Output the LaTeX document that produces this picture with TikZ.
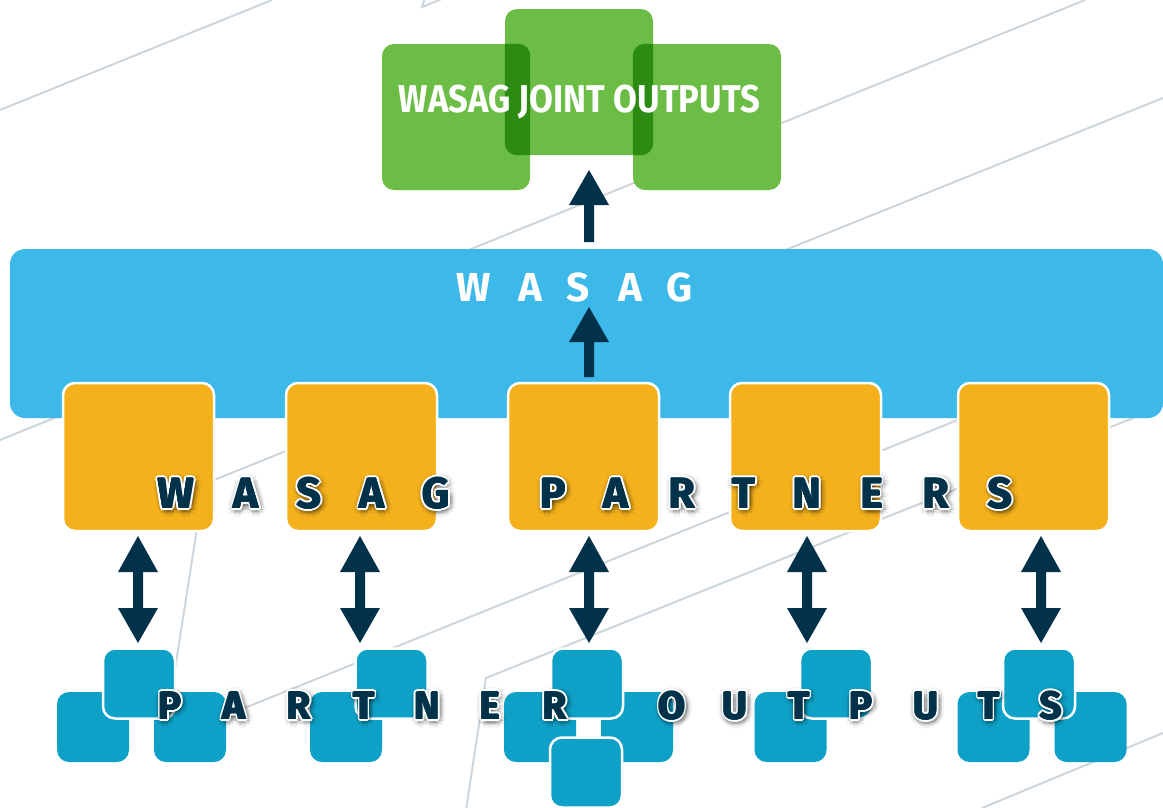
\documentclass[tikz,border=0pt]{standalone}
\usepackage{fontspec}
\setmainfont{Fira Sans}
\usetikzlibrary{calc}
\definecolor{navy}{HTML}{01324A}
\definecolor{bgl}{HTML}{CDD6DC}
\definecolor{grn}{HTML}{6BBD45}
\definecolor{dgrn}{HTML}{2B8B12}
\definecolor{barb}{HTML}{3CB8E9}
\definecolor{org}{HTML}{F4B11C}
\definecolor{sqb}{HTML}{0EA1C8}
\newcommand\glowltr[4]{%
  \foreach \myr/\myop in {7/0.035, 5/0.05, 3/0.07}{%
    \foreach \mya in {0,45,...,315}{%
      \node[#1, text=black, opacity=\myop] at ($#3+(\mya:\myr)+(1.5,2)$) {#4};
    }%
  }%
  \foreach \mya in {0,30,...,330}{%
    \node[#1, text=white] at ($#3+(\mya:2.3)$) {#4};
  }%
  \foreach \mya in {0,90,180,270}{%
    \node[#1, text=navy] at ($#3+(\mya:0.6)$) {#4};
  }%
  \node[#1, text=navy] (#2) at #3 {#4};%
}
\newcommand\uparr[2]{%
  \fill[navy] ($(#1)+(-5,0)$) -- ($(#2)+(-5,35)$) -- ($(#2)+(-20,35)$) -- (#2)
    -- ($(#2)+(20,35)$) -- ($(#2)+(5,35)$) -- ($(#1)+(5,0)$) -- cycle;}
\newcommand\dblarr[2]{%
  \fill[navy] (#1) -- ($(#1)+(20,36)$) -- ($(#1)+(5,36)$) -- ($(#2)+(5,-35)$)
    -- ($(#2)+(20,-35)$) -- (#2) -- ($(#2)+(-20,-35)$) -- ($(#2)+(-5,-35)$)
    -- ($(#1)+(-5,36)$) -- ($(#1)+(-20,36)$) -- cycle;}
\begin{document}
\begin{tikzpicture}[x=1pt,y=-1pt,
  bgline/.style={draw=bgl, line width=2pt},
  gbox/.style={fill=grn, rounded corners=12pt, minimum width=148pt, minimum height=146pt, inner sep=0pt},
  barbox/.style={fill=barb, rounded corners=15pt, minimum width=1153pt, minimum height=169pt, inner sep=0pt},
  obox/.style={fill=org, draw=white, line width=2.5pt, rounded corners=12pt, minimum width=151pt, minimum height=148pt, inner sep=0pt},
  sq/.style={fill=sqb, rounded corners=12pt, minimum width=72pt, minimum height=70pt, inner sep=0pt},
  sqt/.style={sq, draw=white, line width=2.5pt},
  ltrW/.style={font=\fontsize{40.5}{42}\selectfont\bfseries, text=white, inner sep=0pt, anchor=base},
  ltrP/.style={font=\fontsize{43}{45}\selectfont\bfseries, inner sep=0pt, anchor=base},
  ltrO/.style={font=\fontsize{39}{41}\selectfont\bfseries, inner sep=0pt, anchor=base}]
\useasboundingbox (0,0) rectangle (1163,807);
\fill[white] (0,0) rectangle (1163,807);
% background lines
\begin{scope}
\clip (0,0) rectangle (1163,807);
\draw[bgline] (0,110) -- (272,0);
\draw[bgline] (425,-2) -- (422,7) -- (444,-2);
\draw[bgline] (0,440) -- (1085,0);
\draw[bgline] (1163,98) -- (204,484) -- (167,720);
\draw[bgline] (200,726) -- (1163,337);
\draw[bgline] (466,810) -- (486,678) -- (1163,406);
\draw[bgline] (982,808) -- (1163,733);
\end{scope}
% green joint outputs
\node[gbox] (g1) at (456,117) {};
\node[gbox] (g3) at (707,117) {};
\node[gbox] (g2) at (579,82) {};
\begin{scope}
\clip[rounded corners=12pt] (g1.south west) rectangle (g1.north east);
\fill[dgrn, rounded corners=12pt] (g2.south west) rectangle (g2.north east);
\end{scope}
\begin{scope}
\clip[rounded corners=12pt] (g3.south west) rectangle (g3.north east);
\fill[dgrn, rounded corners=12pt] (g2.south west) rectangle (g2.north east);
\end{scope}
\node[anchor=base, text=white, inner sep=0pt] (title) at (579.5,112)
  {\resizebox{361pt}{27.5pt}{\bfseries WASAG JOINT OUTPUTS}};
% blue bar
\node[barbox] (bar) at (586.5,333.5) {};
\foreach \x/\l [count=\i] in {474/W,530/A,578.5/S,630/A,679.5/G}
  \node[ltrW] (bw\i) at (\x,301) {\l};
% arrows to green and within bar
\coordinate (ua1) at (589,242);
\coordinate (ut1) at (589,170);
\uparr{ua1}{ut1}
\coordinate (ua2) at (589,377);
\coordinate (ut2) at (589,307);
\uparr{ua2}{ut2}
% orange partner boxes
\foreach \x [count=\i] in {138.5,361.5,583.5,805.5,1033.5}
  \node[obox] (o\i) at (\x,457) {};
% double arrows
\foreach \x [count=\i] in {138,360,589,807,1041}{
  \coordinate (dt\i) at (\x,536);
  \coordinate (db\i) at (\x,643);
  \dblarr{dt\i}{db\i}
}
% partner output squares
\node[sq] (s1a) at (93,727) {};
\node[sq] (s1b) at (190,727) {};
\node[sqt] (s1c) at (139,683.5) {};
\node[sq] (s2a) at (346,727) {};
\node[sqt] (s2b) at (391.5,683.5) {};
\node[sq] (s3a) at (540,727) {};
\node[sq] (s3b) at (637,727) {};
\node[sqt] (s3c) at (587,683.5) {};
\node[sqt] (s3d) at (586,772.5) {};
\node[sq] (s4a) at (790.5,727) {};
\node[sqt] (s4b) at (836,683.5) {};
\node[sq] (s5a) at (993.5,727) {};
\node[sq] (s5b) at (1090.5,727) {};
\node[sqt] (s5c) at (1039,683.5) {};
% outlined letters
\foreach \x/\l [count=\i] in {176/W,246/A,309/S,372/A,436/G,553/P,616/A,682/R,744/T,807/N,872/E,936/R,1000/S}{
  \glowltr{ltrP}{pl\i}{(\x,508)}{\l}
}
\foreach \x/\l [count=\i] in {170/P,234/A,299/R,364/T,427/N,490/E,555/R,672/O,735/U,799/T,861/P,926/U,989/T,1051/S}{
  \glowltr{ltrO}{ol\i}{(\x,719)}{\l}
}
\end{tikzpicture}
\end{document}
